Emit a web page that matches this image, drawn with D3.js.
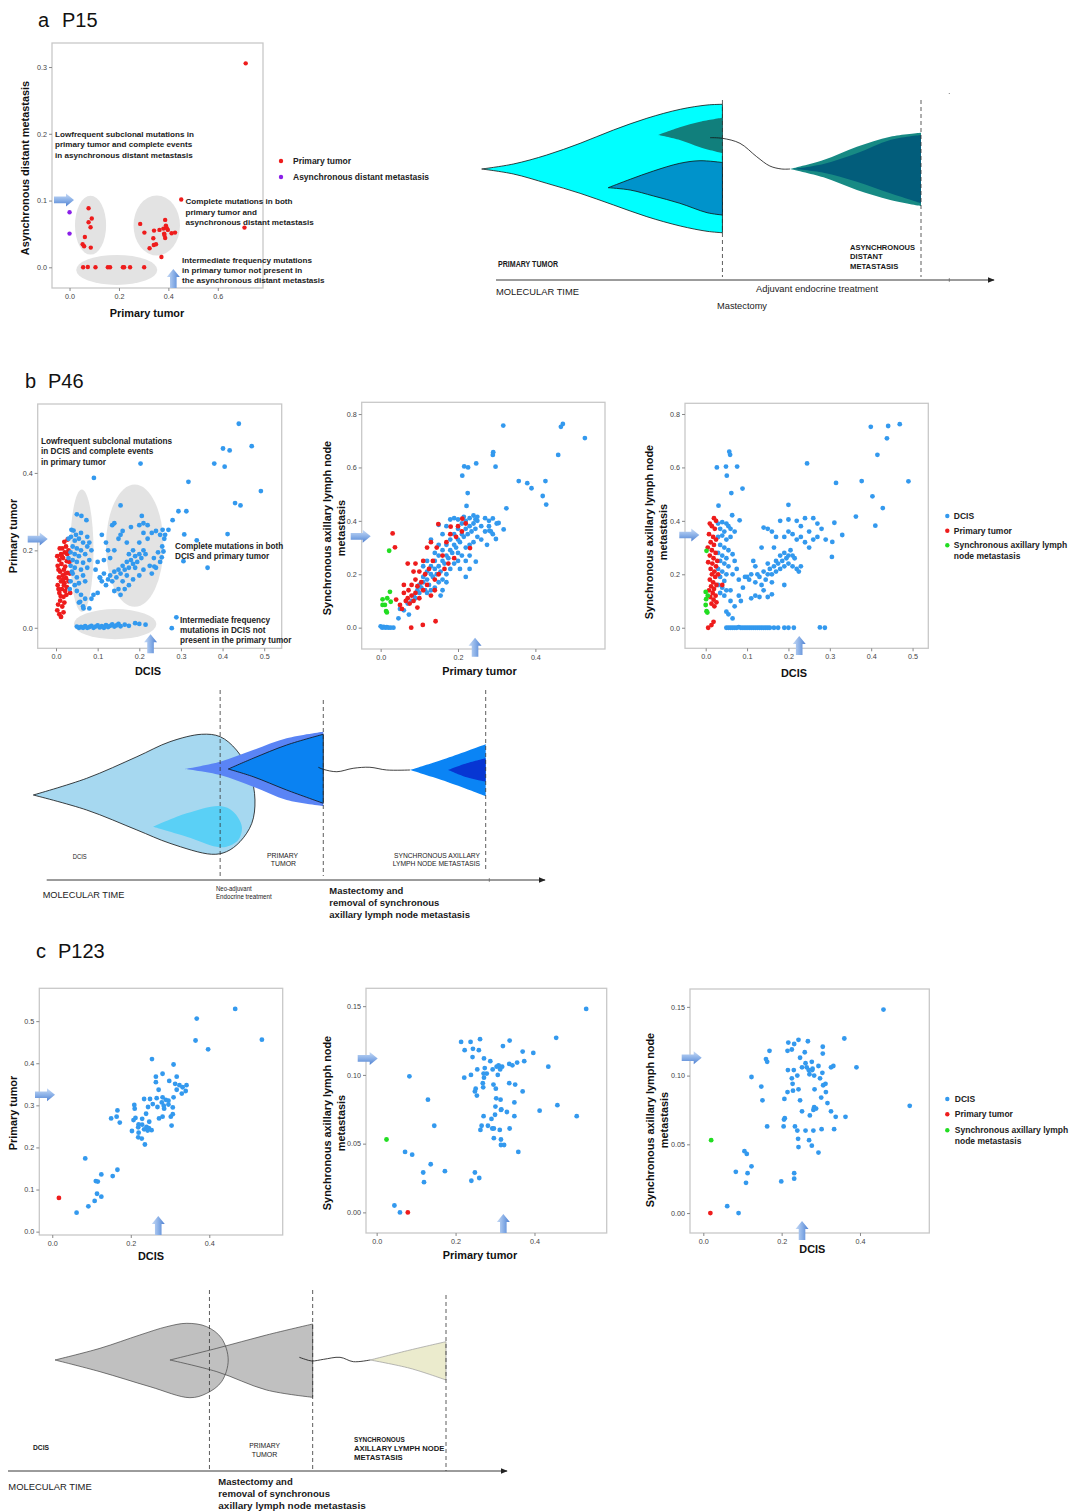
<!DOCTYPE html>
<html>
<head>
<meta charset="utf-8">
<script src="https://cdn.jsdelivr.net/npm/d3@7"></script>
<style>
  body { margin: 0; background: #fff; }
</style>
</head>
<body>
<div id="fig"></div>
<script>

// ---------- data: panel a (P15) ----------
const aPrimaryPts = [[0.713,0.3055],[0.452,0.1015],[0.708,0.0595],
  [0.077,0.0885],[0.090,0.073],[0.077,0.0675],[0.085,0.06],[0.062,0.0455],[0.053,0.0345],[0.059,0.0315],[0.086,0.0295],
  [0.286,0.065],[0.387,0.071],[0.303,0.052],[0.342,0.055],[0.364,0.056],[0.380,0.058],[0.390,0.0625],[0.394,0.0585],
  [0.398,0.056],[0.383,0.0505],[0.384,0.0485],[0.387,0.044],[0.413,0.051],[0.427,0.052],[0.339,0.0435],[0.341,0.0335],
  [0.350,0.0345],[0.324,0.0285],[0.372,0.0155],
  [0.055,0],[0.074,0.0005],[0.105,0],[0.155,0],[0.164,0],[0.216,0],[0.221,0],[0.245,0],[0.302,0]];
const aMetPts = [[0,0.0825],[0,0.0505]];
const aXTicks = [0, 0.2, 0.4, 0.6];
const aYTicks = [0, 0.1, 0.2, 0.3];

// ---------- data: panel b (P46) ----------
const b1DcisOutliers = [[0.439,0.527],[0.401,0.463],[0.417,0.458],[0.47,0.469],[0.38,0.424],[0.405,0.416],[0.203,0.424],
  [0.318,0.377],[0.091,0.387],[0.492,0.353],[0.43,0.322],[0.443,0.316],[0.155,0.316],[0.294,0.301],[0.313,0.301],
  [0.28,0.278],[0.27,0.253],[0.412,0.242],[0.308,0.241],[0.338,0.226],[0.306,0.172],[0.364,0.155],[0.289,0.027],[0.278,-0.001],
  [0.256,0.253],[0.262,0.24],[0.258,0.197],[0.254,0.182],[0.236,0.158],[0.21,0.27],[0.206,0.289],[0.14,0.27]];
const b1DcisLow = [[0.05,0.293],[0.061,0.289],[0.073,0.278],[0.037,0.253],[0.042,0.251],[0.03,0.23],[0.036,0.235],[0.045,0.225],
  [0.055,0.23],[0.065,0.22],[0.075,0.21],[0.085,0.2],[0.04,0.21],[0.05,0.205],[0.06,0.2],[0.035,0.195],[0.045,0.19],[0.055,0.185],
  [0.07,0.19],[0.04,0.175],[0.05,0.17],[0.065,0.168],[0.08,0.175],[0.035,0.16],[0.045,0.155],[0.06,0.15],[0.075,0.155],[0.04,0.14],
  [0.05,0.13],[0.065,0.135],[0.035,0.12],[0.045,0.11],[0.055,0.115],[0.07,0.12],[0.05,0.095],[0.06,0.085],[0.07,0.075],[0.055,0.065],
  [0.065,0.055],[0.08,0.05],[0.085,0.075],[0.09,0.085],[0.1,0.09],[0.095,0.15],[0.03,0.18],[0.038,0.145],[0.033,0.1],[0.075,0.235],
  [0.08,0.22],[0.06,0.245],[0.048,0.24],[0.058,0.067],[0.066,0.05]];
const b1DcisMid = [[0.105,0.13],[0.11,0.12],[0.115,0.14],[0.12,0.11],[0.125,0.125],[0.13,0.135],[0.135,0.12],[0.14,0.145],[0.145,0.13],
  [0.15,0.15],[0.155,0.14],[0.16,0.16],[0.165,0.15],[0.17,0.17],[0.175,0.155],[0.18,0.175],[0.185,0.165],[0.19,0.185],[0.195,0.17],
  [0.2,0.19],[0.205,0.18],[0.21,0.2],[0.215,0.19],[0.185,0.2],[0.175,0.19],[0.19,0.155],[0.17,0.135],[0.16,0.12],[0.15,0.1],
  [0.14,0.095],[0.155,0.085],[0.13,0.18],[0.14,0.2],[0.12,0.22],[0.15,0.23],[0.17,0.22],[0.2,0.22],[0.22,0.23],[0.23,0.245],
  [0.24,0.25],[0.25,0.24],[0.26,0.23],[0.255,0.21],[0.245,0.195],[0.235,0.18],[0.225,0.16],[0.24,0.155],[0.23,0.14],[0.16,0.25],
  [0.18,0.26],[0.2,0.265],[0.135,0.265],[0.155,0.24],[0.11,0.24],[0.125,0.2],[0.1,0.17],[0.115,0.175],[0.21,0.15],[0.2,0.135],
  [0.185,0.125],[0.175,0.11],[0.165,0.1],[0.25,0.17],[0.22,0.265],[0.21,0.245],[0.106,0.129]];
const b1DcisZero = [[0.05,0.003],[0.055,0],[0.06,0.002],[0.065,0],[0.07,0.004],[0.075,0],[0.08,0.002],[0.085,0.005],[0.09,0],
  [0.095,0.003],[0.1,0.006],[0.105,0.001],[0.11,0.004],[0.115,0],[0.12,0.007],[0.125,0.002],[0.13,0.005],[0.135,0.009],[0.14,0.003],
  [0.145,0.006],[0.15,0.01],[0.155,0.004],[0.165,0.008],[0.175,0.005],[0.19,0.012],[0.2,0.01],[0.215,0.008]];
const b1Dcis = [].concat(b1DcisOutliers, b1DcisLow, b1DcisMid, b1DcisZero);
const b1Primary = [[0.003,0.045],[0.008,0.035],[0.012,0.028],[0.005,0.06],[0.01,0.07],[0.015,0.055],[0.02,0.065],[0.018,0.08],
  [0.008,0.09],[0.014,0.1],[0.022,0.095],[0.004,0.11],[0.012,0.12],[0.02,0.115],[0.026,0.105],[0.007,0.13],[0.016,0.135],[0.024,0.128],
  [0.01,0.145],[0.019,0.15],[0.028,0.142],[0.004,0.16],[0.013,0.165],[0.022,0.158],[0.008,0.175],[0.017,0.18],[0.026,0.172],
  [0.003,0.185],[0.012,0.19],[0.021,0.195],[0.015,0.205],[0.024,0.21],[0.02,0.222],[0.028,0.228],[0.03,0.2],[0.032,0.17],
  [0.034,0.09],[0.03,0.12],[0.018,0.04],[0.025,0.085],[0.006,0.1],[0.011,0.082],[0.019,0.11],[0.014,0.185],[0.006,0.15],
  [0.027,0.19],[0.033,0.14],[0.009,0.205],[0.017,0.125],[0.023,0.14]];

const b2DcisOutliers = [[0.317,0.757],[0.471,0.763],[0.466,0.752],[0.459,0.647],[0.528,0.71],[0.291,0.657],[0.29,0.647],
  [0.297,0.603],[0.247,0.615],[0.216,0.604],[0.226,0.6],[0.211,0.569],[0.357,0.549],[0.379,0.541],[0.39,0.522],[0.426,0.549],
  [0.419,0.493],[0.428,0.461],[0.225,0.504],[0.222,0.456],[0.325,0.447],[0.29,0.409],[0.305,0.392],[0.281,0.363],[0.285,0.36],
  [0.318,0.368],[0.298,0.332],[0.246,0.247]];
const b2DcisMain = [[0.0,0.005],[0.004,0.0],[0.008,0.003],[0.012,0.0],[0.016,0.002],[0.02,0.0],[0.026,0.0],[0.033,0.0],
  [0.046,0.035],[0.05,0.07],[0.06,0.065],[0.073,0.049],[0.07,0.09],[0.08,0.1],[0.085,0.12],[0.09,0.11],[0.095,0.14],[0.1,0.13],
  [0.1,0.16],[0.105,0.15],[0.11,0.17],[0.11,0.19],[0.115,0.14],[0.12,0.18],[0.12,0.21],[0.125,0.16],[0.13,0.2],[0.13,0.23],
  [0.135,0.19],[0.14,0.22],[0.14,0.25],[0.145,0.2],[0.15,0.23],[0.15,0.27],[0.155,0.21],[0.16,0.25],[0.16,0.29],[0.165,0.24],
  [0.17,0.27],[0.17,0.31],[0.175,0.26],[0.18,0.29],[0.18,0.33],[0.185,0.28],[0.19,0.31],[0.19,0.35],[0.195,0.3],[0.2,0.33],
  [0.2,0.37],[0.205,0.32],[0.21,0.35],[0.21,0.39],[0.215,0.34],[0.22,0.37],[0.22,0.4],[0.225,0.35],[0.23,0.38],[0.23,0.41],
  [0.235,0.36],[0.24,0.39],[0.245,0.37],[0.25,0.4],[0.25,0.34],[0.26,0.38],[0.26,0.33],[0.27,0.36],[0.275,0.31],[0.28,0.38],
  [0.29,0.35],[0.3,0.39],[0.21,0.27],[0.22,0.3],[0.23,0.31],[0.24,0.32],[0.2,0.28],[0.19,0.24],[0.18,0.22],[0.17,0.2],
  [0.16,0.18],[0.15,0.17],[0.14,0.15],[0.13,0.14],[0.12,0.13],[0.16,0.14],[0.17,0.17],[0.155,0.12],[0.2,0.25],[0.22,0.25],
  [0.23,0.27],[0.205,0.22],[0.23,0.22],[0.22,0.19],[0.14,0.28],[0.15,0.31],[0.16,0.35],[0.17,0.38],[0.18,0.405],[0.19,0.41],
  [0.2,0.405],[0.215,0.415],[0.24,0.42],[0.245,0.405],[0.25,0.415],[0.27,0.41],[0.28,0.4],[0.13,0.33],[0.15,0.385],[0.11,0.23],
  [0.12,0.25]];
const b2Dcis = [].concat(b2DcisOutliers, b2DcisMain);
const b2Primary = [[0.031,0.353],[0.037,0.301],[0.079,0.0],[0.109,0.01],[0.142,0.024],[0.149,0.388],[0.181,0.378],[0.211,0.408],
  [0.231,0.298],[0.04,0.105],[0.05,0.085],[0.055,0.07],[0.06,0.13],[0.065,0.1],[0.07,0.11],[0.072,0.14],[0.075,0.09],[0.08,0.12],
  [0.08,0.16],[0.085,0.1],[0.09,0.13],[0.09,0.18],[0.095,0.155],[0.1,0.21],[0.1,0.11],[0.105,0.17],[0.11,0.25],[0.11,0.14],
  [0.115,0.2],[0.12,0.16],[0.125,0.22],[0.13,0.32],[0.13,0.12],[0.135,0.25],[0.14,0.18],[0.145,0.3],[0.15,0.2],[0.16,0.27],
  [0.165,0.22],[0.17,0.32],[0.175,0.24],[0.18,0.35],[0.19,0.26],[0.195,0.34],[0.2,0.38],[0.21,0.36],[0.22,0.39],[0.07,0.24],
  [0.09,0.24],[0.085,0.21],[0.06,0.16],[0.095,0.075],[0.12,0.3],[0.14,0.14]];
const b2Lymph = [[0.022,0.288],[0.024,0.134],[0.017,0.11],[0.005,0.106],[0.005,0.085],[0.011,0.085],[0.014,0.062],[0.016,0.057],[0.026,0.097]];

const b3DcisOutliers = [[0.469,0.762],[0.441,0.755],[0.399,0.752],[0.438,0.709],[0.415,0.647],[0.245,0.615],[0.49,0.548],
  [0.377,0.549],[0.315,0.542],[0.403,0.492],[0.428,0.448],[0.363,0.416],[0.41,0.382],[0.311,0.393],[0.33,0.347],[0.306,0.321],
  [0.305,0.265],[0.276,0.001],[0.288,0]];
const b3DcisLeft = [[0.057,0.659],[0.059,0.647],[0.027,0.6],[0.049,0.603],[0.076,0.603],[0.051,0.569],[0.089,0.521],[0.062,0.504],
  [0.031,0.457],[0.082,0.402],[0.064,0.421],[0.03,0.39],[0.04,0.395],[0.05,0.39],[0.055,0.38],[0.06,0.37],[0.035,0.37],[0.045,0.36],
  [0.07,0.36],[0.03,0.34],[0.04,0.345],[0.05,0.33],[0.06,0.34],[0.035,0.31],[0.045,0.3],[0.055,0.29],[0.03,0.28],[0.04,0.27],
  [0.05,0.26],[0.065,0.275],[0.035,0.25],[0.045,0.24],[0.03,0.22],[0.04,0.21],[0.05,0.2],[0.035,0.19],[0.045,0.175],[0.03,0.16],
  [0.04,0.15],[0.05,0.14],[0.035,0.13],[0.045,0.12],[0.06,0.14],[0.065,0.2],[0.07,0.25],[0.055,0.23],[0.06,0.1],[0.05,0.06],
  [0.055,0.05],[0.065,0.035],[0.07,0.08],[0.08,0.12],[0.085,0.1],[0.075,0.22],[0.08,0.18],[0.09,0.15],[0.095,0.19]];
const b3DcisMid = [[0.1,0.19],[0.105,0.18],[0.11,0.2],[0.115,0.25],[0.12,0.17],[0.12,0.12],[0.125,0.2],[0.13,0.19],[0.135,0.16],
  [0.14,0.21],[0.14,0.14],[0.145,0.18],[0.15,0.24],[0.15,0.2],[0.155,0.22],[0.16,0.2],[0.16,0.17],[0.165,0.23],[0.17,0.25],
  [0.17,0.21],[0.175,0.24],[0.18,0.22],[0.18,0.27],[0.185,0.25],[0.19,0.28],[0.19,0.23],[0.195,0.26],[0.2,0.27],[0.2,0.24],
  [0.205,0.29],[0.21,0.27],[0.21,0.23],[0.215,0.26],[0.22,0.22],[0.225,0.21],[0.23,0.23],[0.19,0.34],[0.2,0.36],[0.21,0.35],
  [0.22,0.33],[0.23,0.34],[0.24,0.32],[0.25,0.3],[0.26,0.33],[0.27,0.34],[0.22,0.4],[0.23,0.38],[0.24,0.41],[0.25,0.36],
  [0.26,0.41],[0.27,0.39],[0.28,0.37],[0.29,0.33],[0.18,0.4],[0.2,0.405],[0.17,0.34],[0.16,0.36],[0.15,0.37],[0.14,0.375],
  [0.165,0.3],[0.135,0.3],[0.12,0.23],[0.11,0.11],[0.13,0.115],[0.15,0.115],[0.16,0.125],[0.19,0.16],[0.2,0.46]];
const b3DcisZero = [[0.05,0],[0.055,0],[0.06,0],[0.065,0],[0.07,0],[0.075,0],[0.08,0.002],[0.085,0],[0.09,0],[0.095,0],[0.1,0],
  [0.105,0],[0.11,0],[0.115,0],[0.12,0],[0.125,0],[0.13,0],[0.135,0],[0.14,0],[0.145,0],[0.15,0],[0.155,0],[0.165,0],[0.175,0],
  [0.19,0],[0.2,0],[0.213,0]];
const b3Dcis = [].concat(b3DcisOutliers, b3DcisLeft, b3DcisMid, b3DcisZero);
const b3Primary = [[0.006,0.0],[0.014,0.01],[0.019,0.022],[0.02,0.41],[0.025,0.4],[0.01,0.39],[0.015,0.38],[0.022,0.37],[0.008,0.35],
  [0.018,0.34],[0.025,0.33],[0.012,0.32],[0.02,0.31],[0.005,0.3],[0.015,0.29],[0.024,0.28],[0.01,0.27],[0.019,0.26],[0.006,0.245],
  [0.016,0.24],[0.025,0.23],[0.012,0.22],[0.021,0.21],[0.015,0.2],[0.023,0.19],[0.01,0.18],[0.018,0.17],[0.026,0.16],[0.013,0.155],
  [0.02,0.145],[0.008,0.14],[0.017,0.13],[0.024,0.12],[0.011,0.115],[0.019,0.105],[0.026,0.095],[0.014,0.09],[0.021,0.08],
  [0.03,0.2],[0.028,0.25],[0.04,0.16]];
const b3Lymph = [[0.002,0.288],[0,0.134],[0.001,0.107],[0,0.085],[0.002,0.062],[0.004,0.057],[0.005,0.12]];
const bXTicks5 = [0, 0.1, 0.2, 0.3, 0.4, 0.5];
const bXTicks3 = [0, 0.2, 0.4];
const b1YTicks = [0, 0.2, 0.4];
const bYTicks = [0, 0.2, 0.4, 0.6, 0.8];

// ---------- data: panel c (P123) ----------
const c1Dcis = [[0.466,0.529],[0.368,0.506],[0.534,0.456],[0.365,0.454],[0.397,0.433],[0.254,0.41],[0.309,0.397],[0.281,0.375],
  [0.264,0.368],[0.317,0.368],[0.298,0.358],[0.264,0.355],[0.313,0.351],[0.324,0.348],[0.342,0.348],[0.332,0.343],[0.271,0.337],
  [0.317,0.337],[0.34,0.334],[0.33,0.328],[0.234,0.315],[0.249,0.315],[0.266,0.317],[0.281,0.319],[0.309,0.319],[0.289,0.313],
  [0.296,0.311],[0.209,0.301],[0.256,0.303],[0.279,0.307],[0.296,0.302],[0.284,0.299],[0.244,0.296],[0.268,0.296],[0.307,0.295],
  [0.285,0.292],[0.21,0.292],[0.166,0.288],[0.164,0.273],[0.15,0.269],[0.272,0.269],[0.281,0.273],[0.307,0.279],[0.302,0.273],
  [0.207,0.265],[0.212,0.27],[0.172,0.259],[0.229,0.268],[0.239,0.28],[0.22,0.255],[0.247,0.261],[0.229,0.254],[0.24,0.249],
  [0.246,0.246],[0.219,0.248],[0.304,0.252],[0.203,0.239],[0.22,0.235],[0.234,0.243],[0.243,0.24],[0.253,0.241],[0.219,0.224],
  [0.228,0.221],[0.236,0.207],[0.084,0.174],[0.166,0.147],[0.125,0.136],[0.154,0.132],[0.111,0.12],[0.116,0.119],[0.114,0.09],
  [0.125,0.083],[0.108,0.073],[0.092,0.06],[0.062,0.045]];
const c1Primary = [[0.017,0.08]];
const c2Dcis = [[0.531,0.148],[0.455,0.127],[0.262,0.126],[0.337,0.125],[0.214,0.124],[0.238,0.124],[0.32,0.121],[0.223,0.118],
  [0.244,0.119],[0.259,0.118],[0.37,0.117],[0.397,0.116],[0.243,0.113],[0.272,0.112],[0.288,0.11],[0.374,0.11],[0.356,0.109],
  [0.336,0.108],[0.344,0.107],[0.309,0.107],[0.311,0.106],[0.318,0.106],[0.304,0.106],[0.274,0.105],[0.294,0.104],[0.313,0.104],
  [0.435,0.106],[0.255,0.104],[0.271,0.101],[0.307,0.1],[0.279,0.101],[0.239,0.1],[0.222,0.098],[0.272,0.098],[0.083,0.099],
  [0.336,0.094],[0.351,0.093],[0.269,0.094],[0.27,0.091],[0.296,0.093],[0.251,0.09],[0.302,0.09],[0.249,0.088],[0.254,0.085],
  [0.37,0.088],[0.13,0.082],[0.303,0.083],[0.314,0.082],[0.349,0.08],[0.458,0.078],[0.301,0.077],[0.316,0.075],[0.315,0.0745],
  [0.33,0.073],[0.413,0.074],[0.3,0.071],[0.271,0.07],[0.349,0.07],[0.507,0.07],[0.291,0.068],[0.146,0.063],[0.282,0.063],
  [0.266,0.063],[0.263,0.06],[0.293,0.061],[0.297,0.061],[0.312,0.06],[0.337,0.061],[0.297,0.054],[0.315,0.053],[0.315,0.049],
  [0.323,0.049],[0.359,0.044],[0.072,0.044],[0.09,0.042],[0.137,0.035],[0.173,0.03],[0.118,0.029],[0.12,0.022],[0.249,0.029],
  [0.26,0.025],[0.24,0.023],[0.045,0.005],[0.059,0.0]];
const c2Primary = [[0.079,0.0]];
const c2Lymph = [[0.025,0.053]];
const c3Dcis = [[0.46,0.148],[0.36,0.127],[0.243,0.126],[0.267,0.125],[0.217,0.124],[0.232,0.123],[0.305,0.121],[0.226,0.119],
  [0.169,0.118],[0.215,0.118],[0.259,0.117],[0.305,0.116],[0.247,0.113],[0.16,0.112],[0.163,0.11],[0.277,0.11],[0.261,0.109],
  [0.332,0.107],[0.326,0.106],[0.294,0.107],[0.252,0.106],[0.264,0.106],[0.279,0.105],[0.269,0.104],[0.278,0.104],[0.391,0.106],
  [0.231,0.104],[0.216,0.104],[0.271,0.101],[0.24,0.1],[0.283,0.1],[0.123,0.099],[0.304,0.102],[0.298,0.098],[0.226,0.098],
  [0.228,0.094],[0.306,0.093],[0.312,0.094],[0.148,0.092],[0.243,0.09],[0.284,0.09],[0.215,0.088],[0.229,0.089],[0.313,0.088],
  [0.301,0.084],[0.151,0.082],[0.247,0.082],[0.207,0.083],[0.317,0.08],[0.527,0.078],[0.283,0.077],[0.288,0.076],[0.281,0.075],
  [0.252,0.074],[0.326,0.074],[0.272,0.071],[0.338,0.07],[0.363,0.07],[0.208,0.069],[0.206,0.068],[0.163,0.063],[0.205,0.063],
  [0.234,0.063],[0.24,0.06],[0.261,0.06],[0.281,0.06],[0.302,0.061],[0.334,0.061],[0.242,0.054],[0.27,0.053],[0.243,0.048],
  [0.277,0.049],[0.294,0.044],[0.105,0.045],[0.111,0.043],[0.123,0.034],[0.113,0.029],[0.083,0.03],[0.109,0.022],[0.232,0.029],
  [0.232,0.025],[0.199,0.023],[0.061,0.005],[0.09,0.0]];
const c3Primary = [[0.018,0.0]];
const c3Lymph = [[0.02,0.053]];
const cXTicks = [0, 0.2, 0.4];
const c1YTicks = [0, 0.1, 0.2, 0.3, 0.4, 0.5];
const cYTicks = [0, 0.05, 0.1, 0.15];

// ---------- fish plot shapes (molecular time 0-100, clone size -1..1) ----------
const aFishMain = [[[0,0],[7.2,0.077],[14.8,0.216],[22.4,0.397],[30,0.603],[37.6,0.784],[45.2,0.923],[51.3,0.989],[54.8,1.0]],
  [[54.8,-0.985],[51.3,-0.963],[45.2,-0.881],[37.6,-0.737],[30,-0.556],[22.4,-0.376],[14.8,-0.221],[7.2,-0.077],[0,0]]];
const aFishTeal = [[[40.2,0.525],[45.1,0.644],[49.7,0.731],[54.8,0.793]], [[54.8,0.243],[49.7,0.335],[45.1,0.448],[40.2,0.525]]];
const aFishBlue = [[[28.8,-0.289],[33.8,-0.159],[39.1,-0.031],[45.1,0.088],[49.7,0.128],[54.8,0.1]],
  [[54.8,-0.711],[51.3,-0.675],[45.1,-0.53],[39.1,-0.417],[33.8,-0.325],[28.8,-0.289]]];
const aFishLink = [[52,0.484],[54.8,0.474],[58.8,0.397],[62.6,0.19],[65.6,0.046],[68.3,0],[70.2,0]];
const aFishMetOuter = [[[70.2,0],[77.8,0.139],[85.4,0.345],[93,0.5],[100,0.561]], [[100,-0.572],[93,-0.479],[85.4,-0.325],[77.8,-0.129],[70.2,0]]];
const aFishMetInner = [[[71,0],[77.8,0.077],[85.4,0.242],[93,0.448],[100,0.525]], [[100,-0.53],[93,-0.376],[85.4,-0.196],[77.8,-0.057],[71,0]]];

const bFishDcis = [[[0,0],[11.8,0.278],[22.9,0.638],[30.2,0.888],[37.2,1.012],[41.3,0.972],[44.9,0.75],[47.9,0.362],[49.0,-0.083],
  [48.3,-0.472],[45.7,-0.778],[42.7,-0.945],[39.4,-0.988],[30.2,-0.805],[22.9,-0.583],[11.8,-0.25],[0,0]]];
const bFishDcisSub = [[[26.5,-0.528],[33.9,-0.305],[41.3,-0.183],[44.2,-0.278],[46.1,-0.528],[45.3,-0.75],[42.7,-0.862],[40.5,-0.862],[33.9,-0.695],[26.5,-0.528]]];
const bFishPrimOuter = [[[33.5,0.433],[41.3,0.555],[48.6,0.75],[56,0.945],[64.1,1.055]], [[64.1,-0.183],[56,-0.083],[48.6,0.138],[41.3,0.333],[33.5,0.433]]];
const bFishPrimInner = [[[43.1,0.433],[48.6,0.612],[56,0.833],[64.1,1.012]], [[64.1,-0.138],[56,0.083],[48.6,0.305],[43.1,0.433]]];
const bFishLink = [[63,0.462],[64.1,0.428],[67.1,0.388],[70.7,0.445],[74.4,0.462],[78.1,0.417],[83.3,0.417]];
const bFishMetOuter = [[[83.3,0.417],[91.4,0.612],[100,0.845]], [[100,-0.017],[91.4,0.222],[83.3,0.417]]];
const bFishMetInner = [[[91.7,0.417],[95.8,0.528],[100,0.612]], [[100,0.222],[95.8,0.295],[91.7,0.417]]];

const cFishDcis = [[[0,0],[11.5,0.292],[21.7,0.625],[28.6,0.833],[33.7,0.917],[38.8,0.833],[42.6,0.542],[44.3,0],[42.6,-0.542],
  [38.8,-0.833],[34.5,-0.942],[24.3,-0.667],[11.5,-0.292],[0,0]]];
const cFishPrim = [[[29.4,0],[41.4,0.292],[54.1,0.625],[65.9,0.9]], [[65.9,-0.932],[54.1,-0.75],[41.4,-0.292],[29.4,0]]];
const cFishLink = [[62.5,0.067],[64,0.017],[65.7,-0.025],[68.7,0.017],[72.9,0.067],[76.3,-0.042],[80.6,0]];
const cFishMet = [[[80.6,0],[90.8,0.25],[100,0.458]], [[100,-0.5],[90.8,-0.208],[80.6,0]]];

// ---------- drawing ----------
const FONT = '"Liberation Sans", Arial, Helvetica, sans-serif';
const BLUE = '#3399ee', RED = '#ee1c1c', GREEN = '#22dd22', PURPLE = '#8a1fe8';

const svg = d3.select('#fig').append('svg')
    .attr('width', 1084).attr('height', 1511)
    .style('font-family', FONT);

const defs = svg.append('defs');
const gR = defs.append('linearGradient').attr('id', 'gradR').attr('x1', 0).attr('y1', 0).attr('x2', 0).attr('y2', 1);
gR.append('stop').attr('offset', 0).attr('stop-color', '#c8dbf6');
gR.append('stop').attr('offset', 0.55).attr('stop-color', '#86ade6');
gR.append('stop').attr('offset', 1).attr('stop-color', '#4f80d0');
const gU = defs.append('linearGradient').attr('id', 'gradU').attr('x1', 0).attr('y1', 0).attr('x2', 1).attr('y2', 0);
gU.append('stop').attr('offset', 0).attr('stop-color', '#c8dbf6');
gU.append('stop').attr('offset', 0.55).attr('stop-color', '#86ade6');
gU.append('stop').attr('offset', 1).attr('stop-color', '#4f80d0');
defs.append('marker').attr('id', 'ah').attr('viewBox', '0 0 10 10').attr('refX', 9).attr('refY', 5)
    .attr('markerWidth', 8).attr('markerHeight', 8).attr('orient', 'auto')
  .append('path').attr('d', 'M0,1 L10,5 L0,9 Z').attr('fill', '#222');

function arrowRight(g, x0, yc, len) {
    const sh = 3.3, hh = 6.5, hl = 8;
    const pts = [[x0, yc - sh], [x0 + len - hl, yc - sh], [x0 + len - hl, yc - hh], [x0 + len, yc],
                 [x0 + len - hl, yc + hh], [x0 + len - hl, yc + sh], [x0, yc + sh]];
    g.append('polygon').attr('points', pts.map(d => d.join(',')).join(' ')).attr('fill', 'url(#gradR)');
}
function arrowUp(g, xc, y0, len) {
    const sh = 3.3, hh = 6.5, hl = 8;
    const pts = [[xc - sh, y0], [xc - sh, y0 - len + hl], [xc - hh, y0 - len + hl], [xc, y0 - len],
                 [xc + hh, y0 - len + hl], [xc + sh, y0 - len + hl], [xc + sh, y0]];
    g.append('polygon').attr('points', pts.map(d => d.join(',')).join(' ')).attr('fill', 'url(#gradU)');
}

function drawScatter(p) {
    const b = p.box;
    const x = d3.scaleLinear().domain(p.xDomain).range([b.x, b.x + b.w]);
    const y = d3.scaleLinear().domain(p.yDomain).range([b.y + b.h, b.y]);
    const g = svg.append('g');

    (p.ellipses || []).forEach(e => {
        g.append('ellipse')
            .attr('cx', x(e.cx)).attr('cy', y(e.cy))
            .attr('rx', x(e.cx + e.rx) - x(e.cx)).attr('ry', y(e.cy) - y(e.cy + e.ry))
            .attr('fill', '#e3e3e3');
    });

    g.append('rect').attr('x', b.x).attr('y', b.y).attr('width', b.w).attr('height', b.h)
        .attr('fill', 'none').attr('stroke', '#c8c8c8').attr('stroke-width', 1.3);

    const xa = g.append('g').attr('transform', `translate(0,${b.y + b.h})`)
        .call(d3.axisBottom(x).tickValues(p.xTicks).tickFormat(d3.format(p.xFmt)).tickSize(3).tickPadding(3));
    const ya = g.append('g').attr('transform', `translate(${b.x},0)`)
        .call(d3.axisLeft(y).tickValues(p.yTicks).tickFormat(d3.format(p.yFmt)).tickSize(3).tickPadding(2));
    [xa, ya].forEach(a => {
        a.select('.domain').remove();
        a.attr('font-family', FONT).attr('font-size', 7.2);
        a.selectAll('line').attr('stroke', '#888');
        a.selectAll('text').attr('fill', '#444');
    });

    p.series.forEach(s => {
        g.append('g').selectAll('circle').data(s.data).join('circle')
            .attr('cx', d => x(d[0])).attr('cy', d => y(d[1]))
            .attr('r', p.r || 2.4).attr('fill', s.color);
    });

    if (p.arrowR) arrowRight(g, b.x + p.arrowR.dx, y(p.arrowR.v), 20);
    if (p.arrowU) arrowUp(g, x(p.arrowU.v), b.y + b.h + p.arrowU.dy, 19);

    // axis titles
    g.append('text').attr('x', p.xTitle.x).attr('y', p.xTitle.y).attr('dy', '0.35em')
        .attr('text-anchor', 'middle').attr('font-weight', 'bold').attr('font-size', 10.9).attr('fill', '#111')
        .text(p.xTitle.text);
    p.yTitle.lines.forEach((t, i) => {
        g.append('text').attr('transform', `translate(${p.yTitle.xs[i]},${p.yTitle.y}) rotate(-90)`)
            .attr('dy', '0.35em').attr('text-anchor', 'middle').attr('font-weight', 'bold')
            .attr('font-size', 10.9).attr('fill', '#111').text(t);
    });

    (p.notes || []).forEach(n => {
        n.lines.forEach((t, i) => {
            g.append('text').attr('x', n.x).attr('y', n.y + i * n.step).attr('dy', '0.35em')
                .attr('font-weight', 'bold').attr('font-size', n.size || 8.1).attr('fill', '#222').text(t);
        });
    });
}

function drawLegend(lx, ys, items, off) {
    const g = svg.append('g');
    items.forEach((it, i) => {
        g.append('circle').attr('cx', lx).attr('cy', ys[i]).attr('r', 2.2).attr('fill', it.color);
        it.lines.forEach((t, j) => {
            g.append('text').attr('x', lx + off).attr('y', ys[i] + j * 10.8).attr('dy', '0.35em')
                .attr('font-weight', 'bold').attr('font-size', 8.5).attr('fill', '#222').text(t);
        });
    });
}

function drawFish(f) {
    const x = d3.scaleLinear().domain([0, 100]).range([f.x0, f.x1]);
    const y = d3.scaleLinear().domain([-1, 1]).range([f.ymid + f.h, f.ymid - f.h]);
    const line = d3.line().x(d => x(d[0])).y(d => y(d[1])).curve(d3.curveCatmullRom.alpha(0.5));
    const g = svg.append('g');
    const shapeD = runs => runs.map((r, i) => { const s = line(r); return i === 0 ? s : 'L' + s.slice(1); }).join('') + 'Z';

    f.clones.forEach(c => {
        g.append('path').attr('d', shapeD(c.runs)).attr('fill', c.fill)
            .attr('stroke', f.strokesOnTop ? 'none' : (c.stroke || 'none')).attr('stroke-width', 0.8);
    });
    if (f.strokesOnTop) {
        f.clones.forEach(c => {
            if (c.stroke) g.append('path').attr('d', shapeD(c.runs)).attr('fill', 'none')
                .attr('stroke', c.stroke).attr('stroke-width', 0.7);
        });
    }
    g.append('path').attr('d', line(f.link)).attr('fill', 'none').attr('stroke', '#111').attr('stroke-width', 0.8);

    f.cuts.forEach(c => {
        g.append('line').attr('x1', x(c.t)).attr('x2', x(c.t)).attr('y1', c.y1).attr('y2', c.y2)
            .attr('stroke', '#333').attr('stroke-width', 0.8).attr('stroke-dasharray', '4,3');
    });

    g.append('line').attr('x1', f.axis.x1).attr('x2', f.axis.x2).attr('y1', f.axis.y).attr('y2', f.axis.y)
        .attr('stroke', '#222').attr('stroke-width', 0.9).attr('marker-end', 'url(#ah)');
    (f.axis.ticks || []).forEach(tx => {
        g.append('line').attr('x1', tx).attr('x2', tx).attr('y1', f.axis.y - 2).attr('y2', f.axis.y + 2)
            .attr('stroke', '#555').attr('stroke-width', 0.6);
    });

    f.labels.forEach(l => {
        const t = g.append('text').attr('x', l.x).attr('y', l.y).attr('font-size', l.size)
            .attr('font-weight', l.bold ? 'bold' : 'normal').attr('fill', '#1a1a1a').text(l.text);
        if (l.len) t.attr('textLength', l.len).attr('lengthAdjust', 'spacingAndGlyphs');
    });
}

function panelTitle(lx, px, y, letter, name) {
    svg.append('text').attr('x', lx).attr('y', y).attr('font-size', 20).attr('fill', '#111').text(letter);
    svg.append('text').attr('x', px).attr('y', y).attr('font-size', 20).attr('fill', '#111').text(name);
}

// ---------- panel a ----------
panelTitle(38, 62, 27, 'a', 'P15');

drawScatter({
    box: { x: 52, y: 43, w: 211, h: 245 },
    xDomain: [-0.071, 0.783], yDomain: [-0.031, 0.336],
    xTicks: aXTicks, yTicks: aYTicks, xFmt: '.1f', yFmt: '.1f', r: 2.2,
    ellipses: [{ cx: 0.085, cy: 0.063, rx: 0.063, ry: 0.044 },
               { cx: 0.353, cy: 0.0625, rx: 0.094, ry: 0.045 },
               { cx: 0.191, cy: -0.004, rx: 0.164, ry: 0.0225 }],
    series: [{ data: aPrimaryPts, color: RED }, { data: aMetPts, color: PURPLE }],
    arrowR: { v: 0.101, dx: 2 }, arrowU: { v: 0.42, dy: 0 },
    xTitle: { text: 'Primary tumor', x: 147, y: 313 },
    yTitle: { lines: ['Asynchronous distant metastasis'], xs: [25], y: 168 },
    notes: [
        { x: 55, y: 134, step: 10.4, lines: ['Lowfrequent subclonal mutations in', 'primary tumor and complete events', 'in asynchronous distant metastasis'] },
        { x: 185.5, y: 201.5, step: 10.2, lines: ['Complete mutations in both', 'primary tumor and', 'asynchronous distant metastasis'] },
        { x: 182, y: 260, step: 10.3, lines: ['Intermediate frequency mutations', 'in primary tumor not present in', 'the asynchronous distant metastasis'] }
    ]
});
drawLegend(281, [161, 177], [
    { color: RED, lines: ['Primary tumor'] },
    { color: PURPLE, lines: ['Asynchronous distant metastasis'] }
], 12);

drawFish({
    x0: 481.7, x1: 921, ymid: 169, h: 64.7,
    clones: [
        { runs: aFishMain, fill: '#00ffff', stroke: '#111' },
        { runs: aFishTeal, fill: '#117f7c' },
        { runs: aFishBlue, fill: '#0093cb', stroke: '#111' },
        { runs: aFishMetOuter, fill: '#178a84' },
        { runs: aFishMetInner, fill: '#025d7b' }
    ],
    link: aFishLink,
    cuts: [{ t: 54.8, y1: 100, y2: 277 }, { t: 100, y1: 100, y2: 277 }],
    axis: { x1: 496, x2: 994, y: 280, ticks: [949.3] },
    labels: [
        { text: 'PRIMARY TUMOR', x: 498, y: 266.5, size: 9, bold: true, len: 60 },
        { text: 'ASYNCHRONOUS', x: 850, y: 249.5, size: 7.5, bold: true, len: 65 },
        { text: 'DISTANT', x: 850, y: 259.3, size: 7.5, bold: true, len: 32.7 },
        { text: 'METASTASIS', x: 850, y: 268.8, size: 7.5, bold: true, len: 48.3 },
        { text: 'MOLECULAR TIME', x: 496, y: 295, size: 9.5, len: 83 },
        { text: 'Adjuvant endocrine treatment', x: 756, y: 292.3, size: 9.5, len: 122 },
        { text: 'Mastectomy', x: 717, y: 309, size: 9.5, len: 50 }
    ]
});
svg.append('circle').attr('cx', 949.3).attr('cy', 93.5).attr('r', 0.6).attr('fill', '#777');

// ---------- panel b ----------
panelTitle(25, 48, 388, 'b', 'P46');

drawScatter({
    box: { x: 37.7, y: 404, w: 244, h: 244.3 },
    xDomain: [-0.044, 0.542], yDomain: [-0.053, 0.578],
    xTicks: bXTicks5, yTicks: b1YTicks, xFmt: '.1f', yFmt: '.1f',
    ellipses: [{ cx: 0.062, cy: 0.199, rx: 0.028, ry: 0.158 },
               { cx: 0.189, cy: 0.212, rx: 0.069, ry: 0.158 },
               { cx: 0.142, cy: 0.0095, rx: 0.099, ry: 0.039 }],
    series: [{ data: b1Primary, color: RED }, { data: b1Dcis, color: BLUE }],
    arrowR: { v: 0.229, dx: -10 }, arrowU: { v: 0.227, dy: 5 },
    xTitle: { text: 'DCIS', x: 148, y: 671.5 },
    yTitle: { lines: ['Primary tumor'], xs: [13], y: 536 },
    notes: [
        { x: 41, y: 440.7, step: 10.5, size: 8.2, lines: ['Lowfrequent subclonal mutations', 'in DCIS and complete events', 'in primary tumor'] },
        { x: 175, y: 546, step: 10.6, size: 8.2, lines: ['Complete mutations in both', 'DCIS and primary tumor'] },
        { x: 180, y: 620, step: 10.3, size: 8.2, lines: ['Intermediate frequency', 'mutations in DCIS not', 'present in the primary tumor'] }
    ]
});

drawScatter({
    box: { x: 361.7, y: 402.3, w: 243.3, h: 246.7 },
    xDomain: [-0.049, 0.58], yDomain: [-0.08, 0.844],
    xTicks: bXTicks3, yTicks: bYTicks, xFmt: '.1f', yFmt: '.1f',
    series: [{ data: b2Dcis, color: BLUE }, { data: b2Primary, color: RED }, { data: b2Lymph, color: GREEN }],
    arrowR: { v: 0.342, dx: -11 }, arrowU: { v: 0.244, dy: 7.7 },
    xTitle: { text: 'Primary tumor', x: 479.5, y: 671.5 },
    yTitle: { lines: ['Synchronous axillary lymph node', 'metastasis'], xs: [327.5, 340.7], y: 528 }
});

drawScatter({
    box: { x: 685, y: 403.3, w: 243.3, h: 245 },
    xDomain: [-0.05, 0.538], yDomain: [-0.077, 0.84],
    xTicks: bXTicks5, yTicks: bYTicks, xFmt: '.1f', yFmt: '.1f',
    series: [{ data: b3Dcis, color: BLUE }, { data: b3Primary, color: RED }, { data: b3Lymph, color: GREEN }],
    arrowR: { v: 0.347, dx: -5.7 }, arrowU: { v: 0.226, dy: 6.7 },
    xTitle: { text: 'DCIS', x: 794, y: 673.3 },
    yTitle: { lines: ['Synchronous axillary lymph node', 'metastasis'], xs: [649.5, 663], y: 532 }
});
drawLegend(947.3, [516, 530.7, 545.3], [
    { color: BLUE, lines: ['DCIS'] },
    { color: RED, lines: ['Primary tumor'] },
    { color: GREEN, lines: ['Synchronous axillary lymph', 'node metastasis'] }
], 6.5);

drawFish({
    x0: 33.3, x1: 485.7, ymid: 795, h: 60,
    clones: [
        { runs: bFishDcis, fill: '#a6d8f0', stroke: '#111' },
        { runs: bFishDcisSub, fill: '#5ad0f6' },
        { runs: bFishPrimOuter, fill: '#5a84f5' },
        { runs: bFishPrimInner, fill: '#0a82f2', stroke: '#111' },
        { runs: bFishMetOuter, fill: '#0a84f5' },
        { runs: bFishMetInner, fill: '#0736d3' }
    ],
    link: bFishLink,
    cuts: [{ t: 41.3, y1: 690, y2: 876 }, { t: 64.1, y1: 700, y2: 876 }, { t: 100, y1: 690, y2: 870 }],
    axis: { x1: 46.7, x2: 545, y: 880, ticks: [489.3] },
    labels: [
        { text: 'DCIS', x: 72.7, y: 859, size: 8, len: 14 },
        { text: 'PRIMARY', x: 267, y: 858.3, size: 6.5, len: 31 },
        { text: 'TUMOR', x: 270.7, y: 866, size: 6.5, len: 25.3 },
        { text: 'SYNCHRONOUS AXILLARY', x: 394, y: 858.3, size: 6.5, len: 86 },
        { text: 'LYMPH NODE METASTASIS', x: 392.7, y: 866, size: 6.5, len: 87.3 },
        { text: 'MOLECULAR TIME', x: 42.7, y: 898.3, size: 9.5, len: 81.6 },
        { text: 'Neo-adjuvant', x: 216, y: 891.3, size: 6.5, len: 35.7 },
        { text: 'Endocrine treatment', x: 216, y: 899, size: 6.5, len: 55.7 },
        { text: 'Mastectomy and', x: 329.3, y: 894.2, size: 9, bold: true, len: 74 },
        { text: 'removal of synchronous', x: 329.3, y: 906, size: 9, bold: true, len: 110 },
        { text: 'axillary lymph node metastasis', x: 329.3, y: 918.3, size: 9, bold: true, len: 140.7 }
    ]
});

// ---------- panel c ----------
panelTitle(36, 58, 958, 'c', 'P123');

drawScatter({
    box: { x: 39.3, y: 988.3, w: 243.4, h: 246.7 },
    xDomain: [-0.033, 0.587], yDomain: [-0.008, 0.578],
    xTicks: cXTicks, yTicks: c1YTicks, xFmt: '.1f', yFmt: '.1f',
    series: [{ data: c1Dcis, color: BLUE }, { data: c1Primary, color: RED }],
    arrowR: { v: 0.325, dx: -4.3 }, arrowU: { v: 0.27, dy: 0 },
    xTitle: { text: 'DCIS', x: 151, y: 1256.5 },
    yTitle: { lines: ['Primary tumor'], xs: [13], y: 1113 }
});

drawScatter({
    box: { x: 366, y: 988.3, w: 240.7, h: 244.7 },
    xDomain: [-0.027, 0.583], yDomain: [-0.015, 0.163],
    xTicks: cXTicks, yTicks: cYTicks, xFmt: '.1f', yFmt: '.2f',
    series: [{ data: c2Dcis, color: BLUE }, { data: c2Primary, color: RED }, { data: c2Lymph, color: GREEN }],
    arrowR: { v: 0.112, dx: -8.3 }, arrowU: { v: 0.321, dy: 0 },
    xTitle: { text: 'Primary tumor', x: 480, y: 1255.5 },
    yTitle: { lines: ['Synchronous axillary lymph node', 'metastasis'], xs: [327.5, 340.7], y: 1123 }
});

drawScatter({
    box: { x: 690, y: 989, w: 239.3, h: 244 },
    xDomain: [-0.034, 0.577], yDomain: [-0.0145, 0.163],
    xTicks: cXTicks, yTicks: cYTicks, xFmt: '.1f', yFmt: '.2f',
    series: [{ data: c3Dcis, color: BLUE }, { data: c3Primary, color: RED }, { data: c3Lymph, color: GREEN }],
    arrowR: { v: 0.113, dx: -8.3 }, arrowU: { v: 0.252, dy: 7 },
    xTitle: { text: 'DCIS', x: 812.3, y: 1249.5 },
    yTitle: { lines: ['Synchronous axillary lymph node', 'metastasis'], xs: [650, 663.7], y: 1120 }
});
drawLegend(947.3, [1099, 1114.3, 1130.3], [
    { color: BLUE, lines: ['DCIS'] },
    { color: RED, lines: ['Primary tumor'] },
    { color: GREEN, lines: ['Synchronous axillary lymph', 'node metastasis'] }
], 7.5);

drawFish({
    x0: 55, x1: 446, ymid: 1360, h: 40, strokesOnTop: true,
    clones: [
        { runs: cFishDcis, fill: '#c0c0c0', stroke: '#444' },
        { runs: cFishPrim, fill: '#c0c0c0', stroke: '#444' },
        { runs: cFishMet, fill: '#ebebcd', stroke: '#999' }
    ],
    link: cFishLink,
    cuts: [{ t: 39.5, y1: 1290, y2: 1471 }, { t: 65.9, y1: 1290, y2: 1471 }, { t: 100, y1: 1295, y2: 1471 }],
    axis: { x1: 8, x2: 507, y: 1471 },
    labels: [
        { text: 'DCIS', x: 33, y: 1450, size: 6.5, bold: true, len: 16 },
        { text: 'PRIMARY', x: 249.3, y: 1447.8, size: 7, len: 30.7 },
        { text: 'TUMOR', x: 251.7, y: 1456.5, size: 7, len: 25.7 },
        { text: 'SYNCHRONOUS', x: 354, y: 1441.6, size: 7.5, bold: true, len: 50.7 },
        { text: 'AXILLARY LYMPH NODE', x: 354, y: 1451, size: 7.5, bold: true, len: 90.3 },
        { text: 'METASTASIS', x: 354, y: 1460.3, size: 7.5, bold: true, len: 48.7 },
        { text: 'MOLECULAR TIME', x: 8.3, y: 1490, size: 9.5, len: 83.4 },
        { text: 'Mastectomy and', x: 218.3, y: 1485, size: 9, bold: true, len: 74.4 },
        { text: 'removal of synchronous', x: 218.3, y: 1496.7, size: 9, bold: true, len: 111.7 },
        { text: 'axillary lymph node metastasis', x: 218.3, y: 1509, size: 9, bold: true, len: 147.4 }
    ]
});

</script>
</body>
</html>
